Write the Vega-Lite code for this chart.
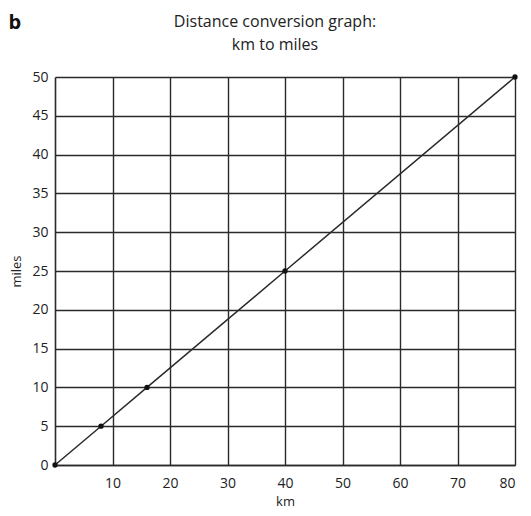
{
  "$schema": "https://vega.github.io/schema/vega-lite/v6.json",
  "width": 460,
  "height": 388,
  "autosize": {"type": "none"},
  "padding": {"left": 55, "top": 77, "right": 16, "bottom": 51},
  "background": "white",
  "title": {
    "text": ["Distance conversion graph:", "km to miles"],
    "font": "Open Sans",
    "fontSize": 16,
    "fontWeight": "normal",
    "color": "#222222",
    "anchor": "middle",
    "dx": -10,
    "offset": -40,
    "lineHeight": 23
  },
  "config": {
    "view": {"stroke": null},
    "axis": {
      "grid": true,
      "gridColor": "#2a2a2a",
      "gridWidth": 1.4,
      "gridOpacity": 1,
      "domainColor": "#2a2a2a",
      "domainWidth": 1.6,
      "ticks": false,
      "labelFont": "Open Sans",
      "labelFontSize": 14,
      "labelColor": "#222222",
      "labelOverlap": false,
      "titleFont": "Open Sans",
      "titleFontSize": 13,
      "titleFontWeight": "normal",
      "titleColor": "#222222"
    }
  },
  "encoding": {
    "x": {"field": "km", "type": "quantitative", "scale": {"domain": [0, 80], "nice": false},
          "axis": {"values": [10, 20, 30, 40, 50, 60, 70, 80], "labelPadding": 11, "title": "km", "titlePadding": 5}},
    "y": {"field": "miles", "type": "quantitative", "scale": {"domain": [0, 50], "nice": false},
          "axis": {"values": [0, 5, 10, 15, 20, 25, 30, 35, 40, 45, 50], "labelPadding": 7, "title": "miles", "titlePadding": 8}}
  },
  "layer": [
    {
      "data": {"values": [
        {"km": 0, "miles": 0},
        {"km": 8, "miles": 5},
        {"km": 16, "miles": 10},
        {"km": 40, "miles": 25},
        {"km": 80, "miles": 50}
      ]},
      "mark": {"type": "line", "color": "#2a2a2a", "strokeWidth": 1.5}
    },
    {
      "data": {"values": [
        {"km": 0, "miles": 0},
        {"km": 8, "miles": 5},
        {"km": 16, "miles": 10},
        {"km": 40, "miles": 25},
        {"km": 80, "miles": 50}
      ]},
      "mark": {"type": "point", "filled": true, "color": "#111111", "size": 28, "opacity": 1}
    },
    {
      "data": {"values": [{"label": "b", "km": -7, "miles": 57}]},
      "mark": {"type": "text", "font": "Open Sans", "fontSize": 20, "fontWeight": "bold", "color": "#111111", "baseline": "middle", "align": "center"},
      "encoding": {
        "text": {"field": "label"}
      }
    }
  ]
}
